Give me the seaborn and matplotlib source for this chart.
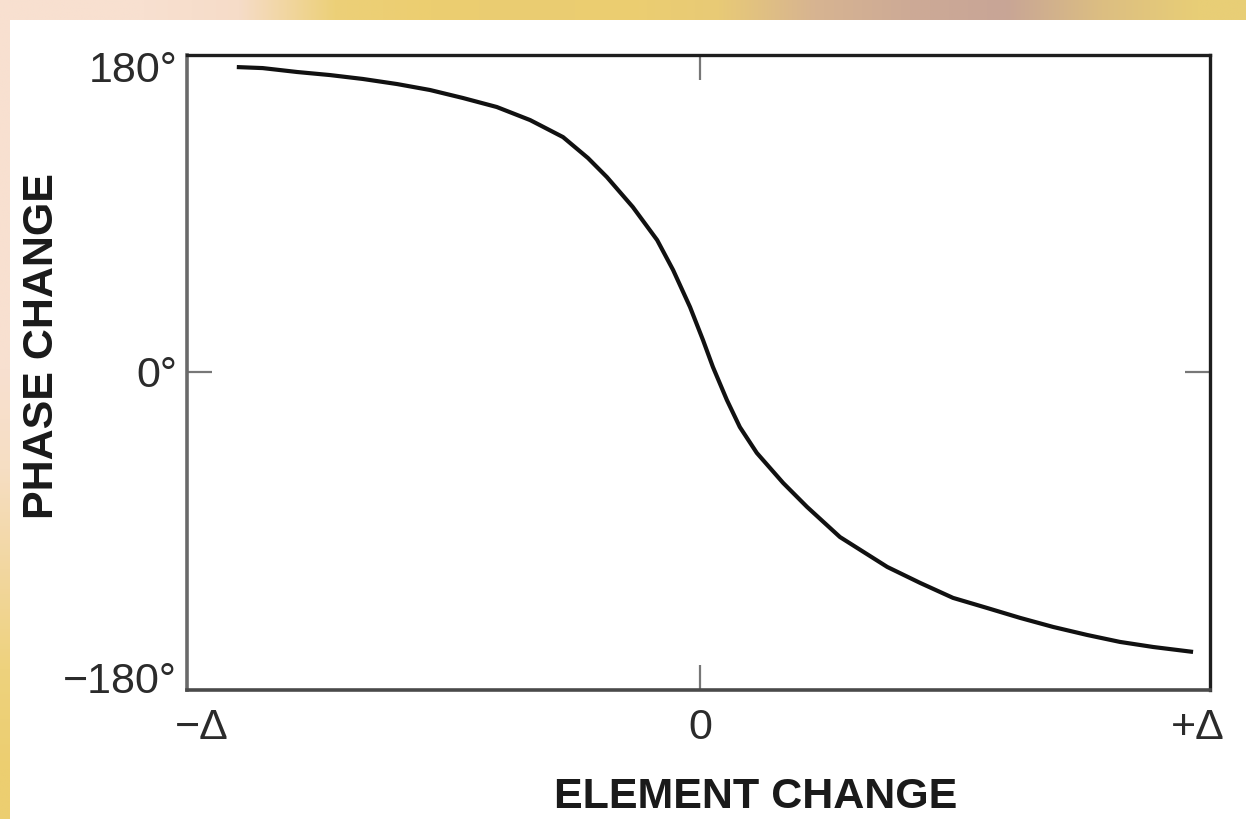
import numpy as np
import pandas as pd
import matplotlib
matplotlib.use("Agg")
import matplotlib.pyplot as plt
import seaborn as sns

# ---- data ----
element_change = [-0.930, -0.878, -0.809, -0.743, -0.677, -0.608, -0.542, -0.476,
                  -0.408, -0.341, -0.275, -0.225, -0.187, -0.135, -0.086, -0.054,
                  -0.020, 0.006, 0.026, 0.054, 0.080, 0.114, 0.167, 0.215,
                  0.281, 0.376, 0.442, 0.508, 0.576, 0.643, 0.709,
                  0.777, 0.843, 0.910, 0.990]
phase_change = [179.4, 178.8, 176.5, 174.7, 172.4, 169.4, 165.9, 161.2,
                155.9, 148.2, 138.2, 125.9, 114.7, 97.1, 77.6, 60.0,
                38.2, 18.8, 2.9, -16.5, -32.4, -47.6, -65.3, -79.4,
                -97.1, -114.7, -124.1, -132.9, -138.8, -144.7, -150.0,
                -154.7, -158.8, -161.8, -164.7]

x_ticks = [-1, 0, 1]
x_tick_labels = ["\u2212\u0394", "0", "+\u0394"]
y_ticks = [180, 0, -180]
y_tick_labels = ["180\u00b0", "0\u00b0", "\u2212180\u00b0"]
x_label = "ELEMENT CHANGE"
y_label = "PHASE CHANGE"

df = pd.DataFrame({"element": element_change, "phase": phase_change})

sns.set_theme(style="white")
plt.rcParams["font.family"] = ["Liberation Sans", "DejaVu Sans"]

W, H = 1246, 819
fig = plt.figure(figsize=(W / 100, H / 100), dpi=100)
fig.patch.set_facecolor("white")

# ---- decorative slide background (top and left strips) ----
bg = fig.add_axes([0, 0, 1, 1])
bg.set_axis_off()
top_cols = np.array([
    (248, 224, 208), (248, 224, 208), (246, 220, 200), (236, 208, 120),
    (236, 206, 112), (234, 204, 114), (236, 206, 112), (232, 202, 118),
    (215, 180, 145), (205, 170, 150), (200, 165, 150), (220, 190, 130),
    (232, 206, 118)], dtype=float) / 255.0
left_cols = np.array([
    (248, 224, 208), (248, 224, 208), (248, 224, 208), (248, 224, 208),
    (246, 222, 195), (242, 215, 160), (238, 210, 125), (236, 206, 112)],
    dtype=float) / 255.0
bg.imshow(top_cols[np.newaxis, :, :], extent=(0, W, 20, 0), aspect="auto",
          interpolation="bilinear")
bg.imshow(left_cols[:, np.newaxis, :], extent=(0, 10, H, 20), aspect="auto",
          interpolation="bilinear")
bg.set_xlim(0, W)
bg.set_ylim(H, 0)

# ---- main axes ----
ax = fig.add_axes([187 / W, 129 / H, 1023 / W, 635 / H])
ax.set_facecolor("white")
sns.lineplot(data=df, x="element", y="phase", ax=ax, color="#111111",
             linewidth=3.0, solid_capstyle="butt", solid_joinstyle="round")

ax.set_xlim(-1.030, 1.024)
ax.set_ylim(-187.1, 186.5)

for side in ["top", "right", "left", "bottom"]:
    ax.spines[side].set_visible(True)
ax.spines["top"].set_color("#1e1e1e")
ax.spines["top"].set_linewidth(2.4)
ax.spines["right"].set_color("#1e1e1e")
ax.spines["right"].set_linewidth(2.4)
ax.spines["left"].set_color("#6a6a6a")
ax.spines["left"].set_linewidth(2.6)
ax.spines["bottom"].set_color("#4a4a4a")
ax.spines["bottom"].set_linewidth(2.6)

ax.set_xticks(x_ticks)
ax.set_xticklabels(x_tick_labels)
ax.set_yticks(y_ticks)
ax.set_yticklabels(y_tick_labels)
ax.tick_params(axis="both", which="major", length=0, labelsize=31,
               labelcolor="#2b2b2b")
ax.tick_params(axis="x", which="major", pad=13)
ax.tick_params(axis="y", which="major", pad=7)

# inward tick marks only at the zero positions
ax.xaxis.remove_overlapping_locs = False
ax.yaxis.remove_overlapping_locs = False
ax.set_xticks([0], minor=True)
ax.set_yticks([0], minor=True)
ax.tick_params(which="minor", direction="in", length=18, width=1.6,
               color="#777777", top=True, bottom=True, left=True, right=True,
               labelbottom=False, labelleft=False)

ax.set_xlabel(x_label, fontsize=31, fontweight="bold", color="#1a1a1a")
ax.set_ylabel(y_label, fontsize=31, fontweight="bold", color="#1a1a1a")
ax.xaxis.set_label_coords(0.556, -0.1685)
ax.xaxis.label.set_va("center")
ax.yaxis.set_label_coords(-0.1417, 0.5417)
ax.yaxis.label.set_va("center")
ax.yaxis.label.set_ha("center")

fig.savefig("out.png", dpi=100)
